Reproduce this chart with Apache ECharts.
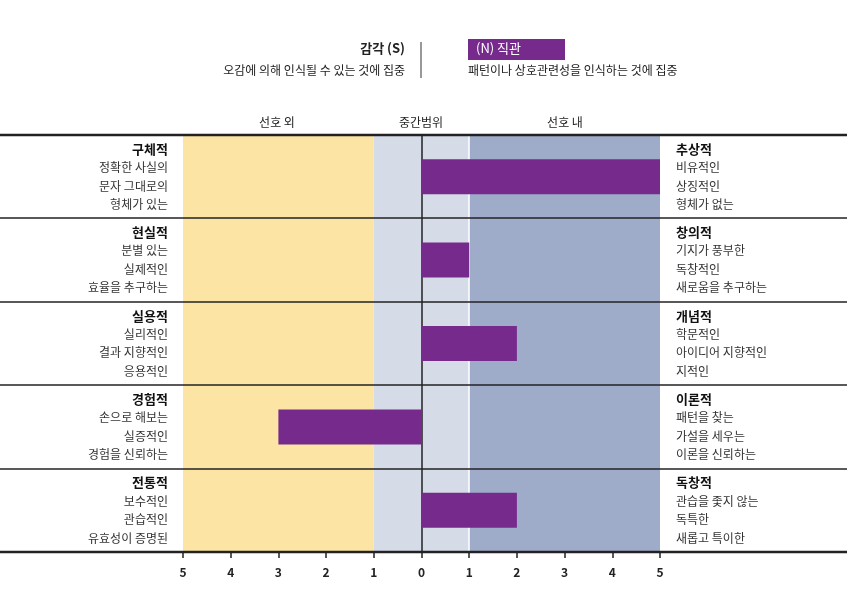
<!DOCTYPE html>
<html><head><meta charset="utf-8">
<script src="https://cdn.jsdelivr.net/npm/echarts@6/dist/echarts.min.js"></script>
<style>body{margin:0}#c{width:847px;height:599px}</style></head>
<body><div id="c"></div>
<script>
var leftTitles=['구체적','현실적','실용적','경험적','전통적'];
var leftLines=[['정확한 사실의','문자 그대로의','형체가 있는'],['분별 있는','실제적인','효율을 추구하는'],['실리적인','결과 지향적인','응용적인'],['손으로 해보는','실증적인','경험을 신뢰하는'],['보수적인','관습적인','유효성이 증명된']];
var rightTitles=['추상적','창의적','개념적','이론적','독창적'];
var rightLines=[['비유적인','상징적인','형체가 없는'],['기지가 풍부한','독창적인','새로움을 추구하는'],['학문적인','아이디어 지향적인','지적인'],['패턴을 찾는','가설을 세우는','이론을 신뢰하는'],['관습을 좇지 않는','독특한','새롭고 특이한']];
var values=[5,1,2,-3,2];
var font='"Noto Sans CJK KR", sans-serif';
var top0=135, bottom0=552, L=183, R=660;

function lbl(t,l){return '{t|'+t+'}\n'+l.join('\n');}
var cats=leftTitles.map(function(t,i){return 'r'+i;});
var chart=echarts.init(document.getElementById('c'));
var rowH=(bottom0-top0)/values.length;
var graphics=[];
for(var i=0;i<=values.length;i++){
  var y=Math.round(top0+i*rowH);
  graphics.push({type:'line',shape:{x1:0,y1:y,x2:847,y2:y},z:10,style:{stroke:'#222',lineWidth:(i==0||i==values.length)?2.5:1.5}});
}
graphics.push({type:'line',shape:{x1:421,y1:42,x2:421,y2:78},style:{stroke:'#333',lineWidth:1}});
graphics.push({type:'text',x:405,y:42,style:{text:'감각 (S)',font:'bold 13px '+font,fill:'#222',align:'right'}});
graphics.push({type:'text',x:405,y:64,style:{text:'오감에 의해 인식될 수 있는 것에 집중',font:'12px '+font,fill:'#222',align:'right'}});
graphics.push({type:'rect',shape:{x:468,y:39,width:97,height:21},style:{fill:'#752a8c'}});
graphics.push({type:'text',x:476,y:42,style:{text:'(N) 직관',font:'13px '+font,fill:'#fff'}});
graphics.push({type:'text',x:468,y:64,style:{text:'패턴이나 상호관련성을 인식하는 것에 집중',font:'12px '+font,fill:'#222'}});
[['선호 외',277],['중간범위',421],['선호 내',565]].forEach(function(a){
  graphics.push({type:'text',x:a[1],y:116,style:{text:a[0],font:'12px '+font,fill:'#222',align:'center'}});
});
chart.setOption({
  animation:false,
  grid:{left:L,right:847-R,top:top0,bottom:599-bottom0},
  xAxis:{type:'value',min:-5,max:5,interval:1,
    axisLine:{show:false},axisTick:{show:true,length:6,lineStyle:{color:'#222',width:1.5}},
    splitLine:{show:false},
    axisLabel:{margin:14,fontFamily:font,fontWeight:'bold',fontSize:12,color:'#222',formatter:function(v){return Math.abs(v);}}},
  yAxis:[
    {type:'category',data:cats,inverse:true,axisLine:{show:false},axisTick:{show:false},
     axisLabel:{margin:15,align:'right',fontFamily:font,fontSize:12,color:'#333',lineHeight:18.5,
       formatter:function(v,i){return lbl(leftTitles[i],leftLines[i]);},
       rich:{t:{fontWeight:'bold',fontSize:13,color:'#111',fontFamily:font,lineHeight:18.5}}}},
    {type:'category',data:cats,inverse:true,position:'right',axisLine:{show:false},axisTick:{show:false},
     axisLabel:{margin:16,align:'left',fontFamily:font,fontSize:12,color:'#333',lineHeight:18.5,
       formatter:function(v,i){return lbl(rightTitles[i],rightLines[i]);},
       rich:{t:{fontWeight:'bold',fontSize:13,color:'#111',fontFamily:font,lineHeight:18.5}}}}
  ],
  series:[{type:'bar',data:values,barWidth:35,itemStyle:{color:'#752a8c'},z:5,
    markArea:{silent:true,z:1,data:[
      [{xAxis:-5,itemStyle:{color:'#fbe4a4'}},{xAxis:-1}],
      [{xAxis:-1,itemStyle:{color:'#d6dbe8'}},{xAxis:1}],
      [{xAxis:1,itemStyle:{color:'#9eacc9'}},{xAxis:5}]]},
    markLine:{silent:true,symbol:'none',label:{show:false},z:2,data:[
      {xAxis:0,lineStyle:{color:'#222',width:1.5,type:'solid'}},
      {xAxis:1,lineStyle:{color:'#fff',width:1.5,type:'solid'}}]}
  }],
  graphic:graphics
});
</script></body></html>
